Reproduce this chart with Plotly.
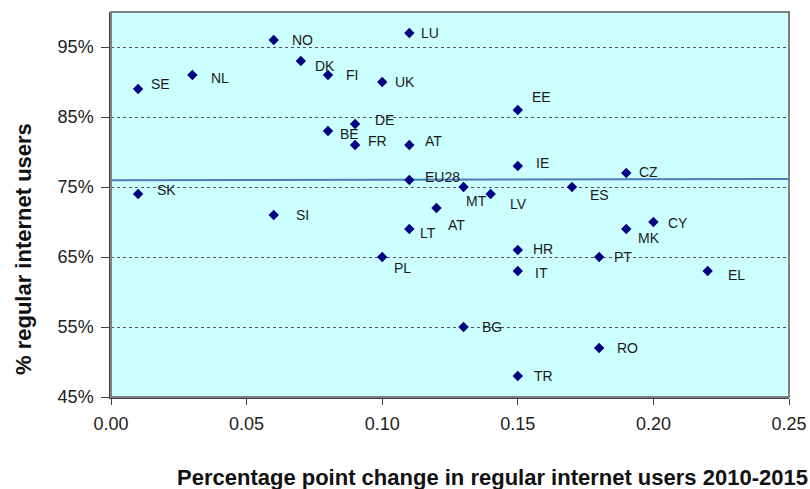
import plotly.graph_objects as go

# Country codes with change in regular internet users 2010-2015 and share in 2015
countries = ["NO", "DK", "FI", "UK", "SE", "NL", "DE", "BE", "FR", "SK",
             "LU", "EE", "AT", "IE", "CZ", "EU28", "MT", "LV", "ES", "AT",
             "SI", "LT", "PL", "CY", "MK", "HR", "PT", "IT", "EL", "BG",
             "RO", "TR"]
change_2010_2015 = [0.06, 0.07, 0.08, 0.10, 0.01, 0.03, 0.09, 0.08, 0.09, 0.01,
                    0.11, 0.15, 0.11, 0.15, 0.19, 0.11, 0.13, 0.14, 0.17, 0.12,
                    0.06, 0.11, 0.10, 0.20, 0.19, 0.15, 0.18, 0.15, 0.22, 0.13,
                    0.18, 0.15]
regular_users_pct = [96, 93, 91, 90, 89, 91, 84, 83, 81, 74,
                     97, 86, 81, 78, 77, 76, 75, 74, 75, 72,
                     71, 69, 65, 70, 69, 66, 65, 63, 63, 55,
                     52, 48]

# Trend line endpoints
trend_x = [0.0, 0.25]
trend_y = [75.95, 76.15]

# Axis ticks
x_ticks = [0.00, 0.05, 0.10, 0.15, 0.20, 0.25]
y_ticks = [45, 55, 65, 75, 85, 95]
y_tick_text = ["45%", "55%", "65%", "75%", "85%", "95%"]

# Label placement (pixel offsets from each marker: right, down)
label_dx = [16, 12, 16, 11, 11, 17, 18, 10, 11, 17,
            10, 12, 14, 16, 11, 14, 0, 17, 16, 10,
            20, 9, 10, 13, 10, 13, 13, 15, 18, 16,
            16, 14]
label_dy = [0, 5, 0, 0, -5, 3, -4, 3, -4, -4,
            0, -13, -4, -3, -1, -3, 14, 10, 8, 17,
            0, 4, 11, 1, 9, -1, 0, 2, 4, 0,
            0, 0]

FONT = "Liberation Sans, Arial, sans-serif"

fig = go.Figure()

fig.add_trace(go.Scatter(
    x=trend_x, y=trend_y, mode="lines",
    line=dict(color="#4a7ebb", width=2),
    hoverinfo="skip", showlegend=False,
))

fig.add_trace(go.Scatter(
    x=change_2010_2015, y=regular_users_pct, mode="markers",
    marker=dict(symbol="diamond", size=8, color="#000080"),
    text=countries, showlegend=False,
))

annotations = []
for name, xv, yv, dx, dy in zip(countries, change_2010_2015, regular_users_pct,
                                label_dx, label_dy):
    annotations.append(dict(
        x=xv, y=yv, xref="x", yref="y", text=name, showarrow=False,
        xanchor="left", yanchor="middle", xshift=dx, yshift=-dy,
        font=dict(family=FONT, size=14, color="#1a1a1a"),
    ))

# Axis titles
annotations.append(dict(
    x=-0.13, y=0.384, xref="paper", yref="paper", showarrow=False,
    text="<b>% regular internet users</b>", textangle=-90,
    xanchor="center", yanchor="middle",
    font=dict(family=FONT, size=22, color="#111111"),
))
annotations.append(dict(
    x=0.5627, y=-0.21, xref="paper", yref="paper", showarrow=False,
    text="<b>Percentage point change in regular internet users 2010-2015</b>",
    xanchor="center", yanchor="middle",
    font=dict(family=FONT, size=22, color="#111111"),
))

fig.update_layout(
    width=810, height=489,
    margin=dict(l=111, r=21, t=12, b=92),
    paper_bgcolor="white",
    plot_bgcolor="#ccffff",
    annotations=annotations,
    shapes=[dict(type="rect", xref="paper", yref="paper", x0=0, y0=0, x1=1, y1=1,
                 line=dict(color="#808080", width=2), layer="above")],
    font=dict(family=FONT),
)

fig.update_xaxes(
    range=[0, 0.25], tickvals=x_ticks, tickformat=".2f",
    ticks="outside", ticklen=6, tickcolor="#404040",
    showline=True, linecolor="#404040", linewidth=1.5,
    showgrid=False, zeroline=False, automargin=False,
    ticklabelstandoff=4,
    tickfont=dict(family=FONT, size=18, color="#222222"),
)
fig.update_yaxes(
    range=[45, 100], tickvals=y_ticks, ticktext=y_tick_text,
    ticks="outside", ticklen=8, tickcolor="#404040",
    showline=True, linecolor="#404040", linewidth=1.5,
    showgrid=True, gridcolor="#555555", gridwidth=1, griddash="dot",
    zeroline=False, automargin=False,
    ticklabelstandoff=4,
    tickfont=dict(family=FONT, size=18, color="#222222"),
)

fig.write_html("out.html")
